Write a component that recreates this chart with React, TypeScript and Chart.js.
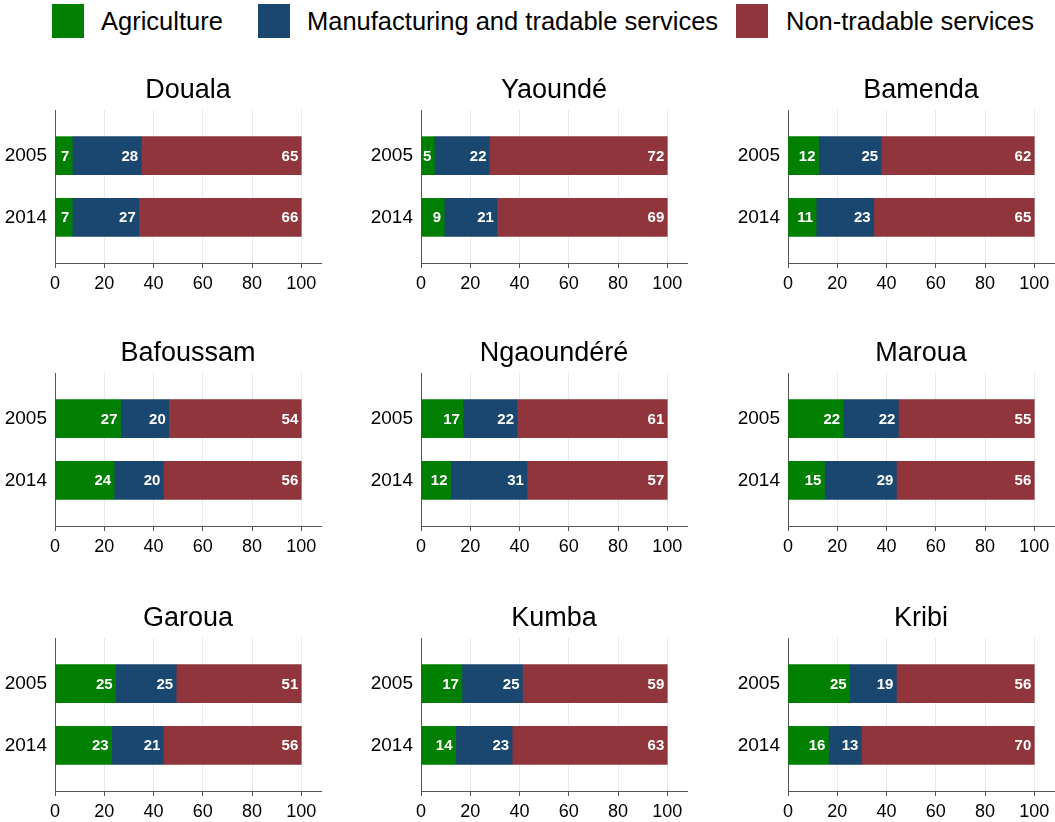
import React, { useEffect, useRef } from 'react';
import { Chart, registerables } from 'chart.js';

Chart.register(...registerables);

const FONT = '"Liberation Sans", Arial, Helvetica, sans-serif';

const SECTORS = ['Agriculture', 'Manufacturing and tradable services', 'Non-tradable services'];
const COLORS = ['#007f00', '#1a476f', '#90353b'];
const YEARS = ['2005', '2014'];
const X_TICKS = [0, 20, 40, 60, 80, 100];
const CITIES = ['Douala', 'Yaoundé', 'Bamenda', 'Bafoussam', 'Ngaoundéré', 'Maroua', 'Garoua', 'Kumba', 'Kribi'];

// Shares (%) per city, [2005, 2014]
const AGRICULTURE = [[7, 7], [5.4, 9.4], [12.4, 11.4], [26.6, 24], [17, 12], [22.4, 14.8], [24.6, 23], [16.6, 14], [25, 16.4]];
const MANUFACTURING = [[28, 27], [22.4, 21.4], [25.4, 23.4], [19.6, 20], [22, 31], [22.4, 29.2], [24.6, 21], [24.6, 23], [19, 13.4]];
const NONTRADABLE = [[65, 66], [72.2, 69.2], [62.2, 65.2], [53.8, 56], [61, 57], [55.2, 56], [50.8, 56], [58.8, 63], [56, 70.2]];

// Layout
const COL_LEFTS = [0, 366, 733];
const ROW_TOPS = [65, 328, 593];
const LEGEND_SQUARES = [52, 258, 736];
const LEGEND_TEXTS = [101, 307, 786];

const valueLabels = {
  id: 'valueLabels',
  afterDatasetsDraw(chart: any) {
    const ctx = chart.ctx;
    ctx.save();
    ctx.fillStyle = '#ffffff';
    ctx.font = `bold 15px ${FONT}`;
    ctx.textAlign = 'right';
    ctx.textBaseline = 'middle';
    chart.data.datasets.forEach((ds: any, i: number) => {
      const meta = chart.getDatasetMeta(i);
      meta.data.forEach((el: any, j: number) => {
        const v = ds.data[j].x;
        ctx.fillText(String(Math.round(v)), el.x - 3, el.y + 1);
      });
    });
    ctx.restore();
  },
};

function Panel({ idx, left, top }: { idx: number; left: number; top: number }) {
  const ref = useRef<HTMLCanvasElement>(null);
  useEffect(() => {
    const series = [AGRICULTURE[idx], MANUFACTURING[idx], NONTRADABLE[idx]];
    const chart = new Chart(ref.current as HTMLCanvasElement, {
      type: 'bar',
      data: {
        datasets: series.map((vals, k) => ({
          label: SECTORS[k],
          data: vals.map((v, j) => ({ x: v, y: j + 1 })),
          backgroundColor: COLORS[k],
          borderWidth: 0,
          barThickness: 38,
          stack: 's',
        })),
      } as any,
      options: {
        indexAxis: 'y',
        animation: false,
        responsive: false,
        events: [],
        layout: { padding: { left: 0, right: 11, top: 0, bottom: 0 } },
        plugins: {
          legend: { display: false },
          tooltip: { enabled: false },
          title: {
            display: true,
            text: CITIES[idx],
            fullSize: false,
            color: '#000',
            font: { family: FONT, size: 27, weight: 'normal' },
            padding: { top: 9, bottom: 3.6 },
          },
        },
        scales: {
          x: {
            type: 'linear',
            stacked: true,
            min: 0,
            max: 108,
            afterBuildTicks: (s: any) => {
              s.ticks = X_TICKS.map((v) => ({ value: v }));
            },
            afterFit: (s: any) => {
              s.height = 30;
            },
            grid: { color: '#e3ebef', lineWidth: 1, tickColor: '#555', tickLength: 5, drawTicks: true },
            border: { display: true, color: '#555', width: 1 },
            ticks: { color: '#000', font: { family: FONT, size: 18 }, padding: 5, maxRotation: 0, autoSkip: false },
          },
          y: {
            type: 'linear',
            min: 0.26,
            max: 2.74,
            reverse: true,
            offset: false,
            z: 1,
            afterBuildTicks: (s: any) => {
              s.ticks = YEARS.map((_, j) => ({ value: j + 1 }));
            },
            afterFit: (s: any) => {
              s.width = 55;
            },
            grid: { display: false, drawTicks: false, offset: false },
            border: { display: true, color: '#555', width: 1 },
            ticks: {
              color: '#000',
              font: { family: FONT, size: 19 },
              padding: 8,
              callback: (v: any) => YEARS[Number(v) - 1] ?? '',
            },
          },
        },
      } as any,
      plugins: [valueLabels],
    });
    return () => chart.destroy();
  }, [idx]);
  return (
    <canvas
      ref={ref}
      width={332}
      height={228}
      style={{ position: 'absolute', left, top, width: 332, height: 228, display: 'block' }}
    />
  );
}

export default function App() {
  return (
    <div
      style={{
        position: 'absolute',
        left: 0,
        top: 0,
        width: 1055,
        height: 822,
        overflow: 'hidden',
        background: '#fff',
        fontFamily: FONT,
      }}
    >
      {SECTORS.map((s, k) => (
        <React.Fragment key={s}>
          <div
            style={{
              position: 'absolute',
              left: LEGEND_SQUARES[k],
              top: 4,
              width: 32,
              height: 34,
              background: COLORS[k],
            }}
          />
          <div
            style={{
              position: 'absolute',
              left: LEGEND_TEXTS[k],
              top: 4,
              height: 34,
              lineHeight: '34px',
              fontSize: 25.5,
              color: '#000',
              whiteSpace: 'nowrap',
            }}
          >
            {s}
          </div>
        </React.Fragment>
      ))}
      {CITIES.map((c, i) => (
        <Panel key={c} idx={i} left={COL_LEFTS[i % 3]} top={ROW_TOPS[Math.floor(i / 3)]} />
      ))}
    </div>
  );
}
